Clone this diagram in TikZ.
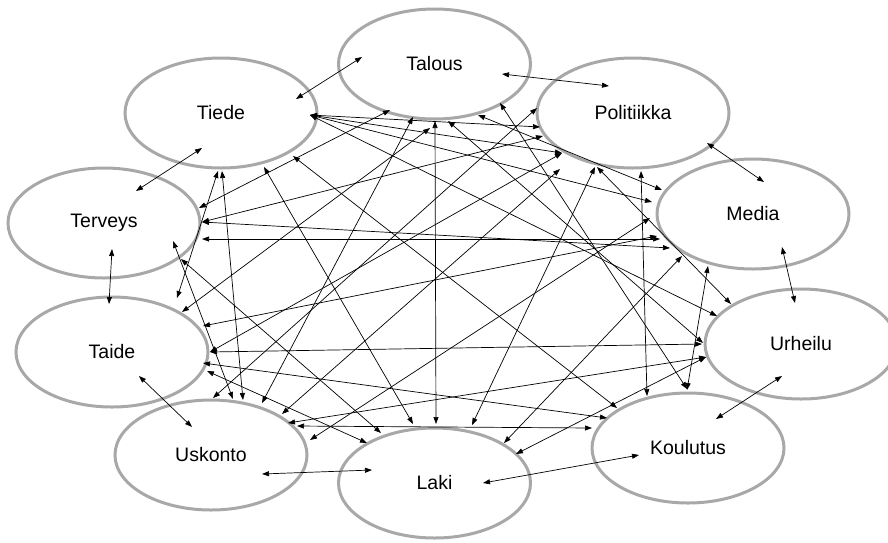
\documentclass[tikz,border=0pt]{standalone}
\usepackage{fontspec}
\setmainfont{Liberation Sans}
\usetikzlibrary{shapes.geometric,arrows.meta}
\definecolor{ellgray}{RGB}{168,168,168}
\begin{document}
\begin{tikzpicture}[x=1pt,y=-1pt,
  elli/.style={ellipse, draw=ellgray, line width=3pt, minimum width=192pt,
    minimum height=110pt, inner sep=0pt, font=\fontsize{19.5}{23}\selectfont},
  conn/.style={{Triangle[length=7pt,width=5pt]}-{Triangle[length=7pt,width=5pt]},
    line width=0.7pt, black}]
\useasboundingbox (0,0) rectangle (888,542);
\fill[white] (0,0) rectangle (888,542);
% nodes
\node[elli] (Ta) at (434.5,64) {Talous};
\node[elli] (Ti) at (221,113) {Tiede};
\node[elli] (Po) at (633,113) {Politiikka};
\node[elli] (Te) at (104,223) {Terveys};
\node[elli] (Me) at (753,214) {Media};
\node[elli] (Td) at (112,352) {Taide};
\node[elli] (Ur) at (801,344) {Urheilu};
\node[elli] (Us) at (211,455) {Uskonto};
\node[elli] (Ko) at (688,448) {Koulutus};
\node[elli] (La) at (434.5,483) {Laki};
% connectors
\foreach \n/\ax/\ay/\bx/\by in {
 TaTi/362/57/296/99, TaPo/502/74/609/86, PoMe/707/143/764/182,
 MeUr/782/247/795/303, UrKo/782/376/716/419, KoLa/639/455/483/483,
 LaUs/372/470/262/474, UsTd/192/427/139/376, TdTe/109/304/112/249,
 TeTi/136/191/202/148,
 TaTe/390/110/199/208, TaTd/430/128/182/312, TaLa/435/121/436/424,
 TaUs/413/117/262/403, TaMe/478/115/662/190, TaKo/500/103/687/389,
 TaUr/448/121/703/343,
 TiPo/310/115/540/127, TiPoB/310/115/562/153, TiMe/310/115/652/202,
 TiUr/310/115/717/316, TiKo/293/156/617/408, TiLa/264/167/413/424,
 TiUs/222/171/243/400, TiTd/218/171/177/298,
 PoUs/537/108/213/398, PoTe/543/136/202/222, PoKo/641/171/647/396,
 PoLa/595/167/472/425, PoUr/597/167/731/304, PoTd/562/153/210/352,
 PoUsB/560/169/282/414,
 TeMe/202/239/660/239, TeMeB/202/222/670/248, TeUs/173/241/233/399,
 TeLa/181/259/381/433,
 TdMe/203/326/657/236, TdUr/210/352/702/344, TdKo/203/363/607/418,
 TdLa/207/371/367/443,
 UsMe/310/440/650/218, UsUr/288/423/706/357, UsKo/297/426/592/428,
 MeKo/708/266/687/390, MeLa/682/256/504/443, UrLa/706/357/516/454}{
  \coordinate (\n-s) at (\ax,\ay);
  \coordinate (\n-e) at (\bx,\by);
  \draw[conn] (\n-s) -- (\n-e);
}
\end{tikzpicture}
\end{document}
